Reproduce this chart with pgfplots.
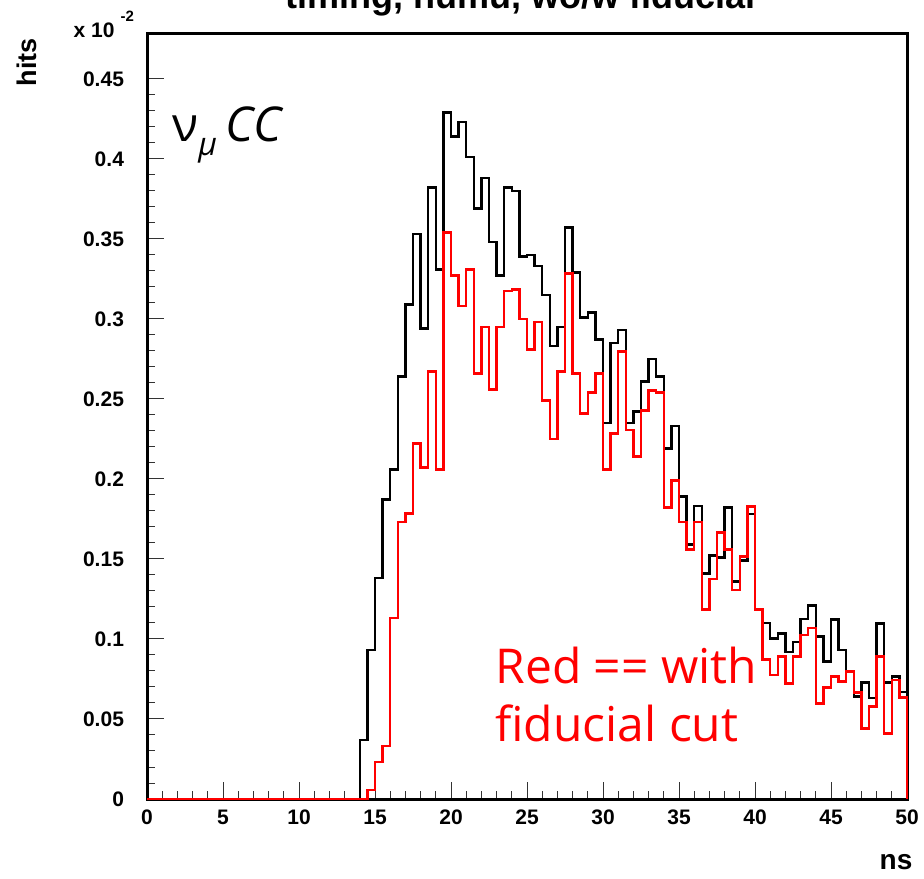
\documentclass[border=0pt]{standalone}
\usepackage{fontspec}
\setmainfont{Liberation Sans}
\newfontfamily\comic{Open Sans}
\usepackage{pgfplots}
\pgfplotsset{compat=1.18}
\begin{document}
\begin{tikzpicture}
\begin{axis}[
  scale only axis, width=380pt, height=382.5pt,
  xmin=0, xmax=50, ymin=0, ymax=0.478,
  xtick={0,5,10,15,20,25,30,35,40,45,50},
  xticklabels={0,5,10,15,20,25,30,35,40,45,50},
  minor x tick num=4,
  ytick={0,0.05,0.1,0.15,0.2,0.25,0.3,0.35,0.4,0.45},
  yticklabels={0,0.05,0.1,0.15,0.2,0.25,0.3,0.35,0.4,0.45},
  minor y tick num=4,
  xtick pos=left, ytick pos=left,
  tick align=inside,
  major tick length=8.5pt, minor tick length=4pt,
  tick style={black!80, line width=0.5pt},
  axis line style={line width=1.5pt},
  tick label style={font=\bfseries\fontsize{10.5}{12}\selectfont},
  xticklabel style={yshift=-2pt},
  yticklabel style={xshift=-8pt},
  /pgf/number format/assume math mode=true,
  clip=false,
]
\addplot[const plot mark left, black, line width=1.25pt] coordinates {
(0,0) (14,0.037) (14.5,0.093) (15,0.138) (15.5,0.187) (16,0.206) (16.5,0.264)
(17,0.309) (17.5,0.353) (18,0.294) (18.5,0.382) (19,0.331) (19.5,0.429)
(20,0.414) (20.5,0.423) (21,0.401) (21.5,0.369) (22,0.388) (22.5,0.348)
(23,0.327) (23.5,0.382) (24,0.380) (24.5,0.339) (25,0.340) (25.5,0.333)
(26,0.315) (26.5,0.283) (27,0.295) (27.5,0.357) (28,0.329) (28.5,0.301)
(29,0.304) (29.5,0.287) (30,0.235) (30.5,0.285) (31,0.293) (31.5,0.235)
(32,0.242) (32.5,0.261) (33,0.275) (33.5,0.264) (34,0.219) (34.5,0.233)
(35,0.189) (35.5,0.159) (36,0.183) (36.5,0.141) (37,0.152) (37.5,0.151)
(38,0.182) (38.5,0.136) (39,0.149) (39.5,0.178) (40,0.1185) (40.5,0.110)
(41,0.1004) (41.5,0.1035) (42,0.0917) (42.5,0.098) (43,0.1125) (43.5,0.1208)
(44,0.1015) (44.5,0.0858) (45,0.1123) (45.5,0.0931) (46,0.0796) (46.5,0.064)
(47,0.0727) (47.5,0.063) (48,0.1098) (48.5,0.0727) (49,0.0765) (49.5,0.067)
(50,0)
};
\addplot[const plot mark left, red, line width=1.25pt] coordinates {
(0,0) (14.5,0.0056) (15,0.023) (15.5,0.033) (16,0.113) (16.5,0.173)
(17,0.1785) (17.5,0.222) (18,0.207) (18.5,0.267) (19,0.206) (19.5,0.354)
(20,0.327) (20.5,0.308) (21,0.331) (21.5,0.266) (22,0.295) (22.5,0.256)
(23,0.295) (23.5,0.3175) (24,0.3185) (24.5,0.300) (25,0.281) (25.5,0.298)
(26,0.249) (26.5,0.225) (27,0.267) (27.5,0.3285) (28,0.266) (28.5,0.241)
(29,0.254) (29.5,0.266) (30,0.206) (30.5,0.2285) (31,0.2796) (31.5,0.2306)
(32,0.214) (32.5,0.2427) (33,0.2552) (33.5,0.254) (34,0.182) (34.5,0.199)
(35,0.173) (35.5,0.156) (36,0.173) (36.5,0.1185) (37,0.1375) (37.5,0.1665)
(38,0.156) (38.5,0.1306) (39,0.1515) (39.5,0.1827) (40,0.1185) (40.5,0.0873)
(41,0.0775) (41.5,0.089) (42,0.0723) (42.5,0.089) (43,0.1025) (43.5,0.1067)
(44,0.0598) (44.5,0.0698) (45,0.0765) (45.5,0.0733) (46,0.0796) (46.5,0.0665)
(47,0.0442) (47.5,0.0577) (48,0.089) (48.5,0.041) (49,0.0744) (49.5,0.0635)
(50,0)
};
\node[anchor=base, inner sep=0pt, font=\bfseries\fontsize{18}{20}\selectfont] at ([yshift=12.5pt]rel axis cs:0.492,1) {timing, numu, wo/w fiducial};
\node[anchor=base west, inner sep=0pt, font=\bfseries\fontsize{10.5}{12}\selectfont] at (rel axis cs:-0.097,0.996) {x 10\hspace{3pt}\raisebox{8pt}{\fontsize{7.5}{8}\selectfont -2}};
\node[rotate=90, inner sep=0pt, font=\bfseries\fontsize{13.5}{15}\selectfont] at (rel axis cs:-0.158,0.963) {hits};
\node[inner sep=0pt, font=\bfseries\fontsize{14}{16}\selectfont] at (rel axis cs:0.9855,-0.082) {ns};
\node[anchor=base west, inner sep=0pt, font=\comic\fontsize{24}{26}\selectfont] at (rel axis cs:0.033,0.859) {ν\raisebox{-7pt}{\fontsize{16}{18}\selectfont\itshape μ}\hspace{4pt}\itshape CC};
\node[anchor=base west, inner sep=0pt, text=red, font=\comic\fontsize{24}{26}\selectfont] at (rel axis cs:0.458,0.151) {Red == with};
\node[anchor=base west, inner sep=0pt, text=red, font=\comic\fontsize{24}{26}\selectfont] at (rel axis cs:0.458,0.075) {fiducial cut};
\end{axis}
\pgfresetboundingbox
\useasboundingbox ([shift={(-73.5pt,-39.5pt)}]current axis.south west) rectangle ([shift={(8.5pt,17pt)}]current axis.north east);
\end{tikzpicture}
\end{document}
